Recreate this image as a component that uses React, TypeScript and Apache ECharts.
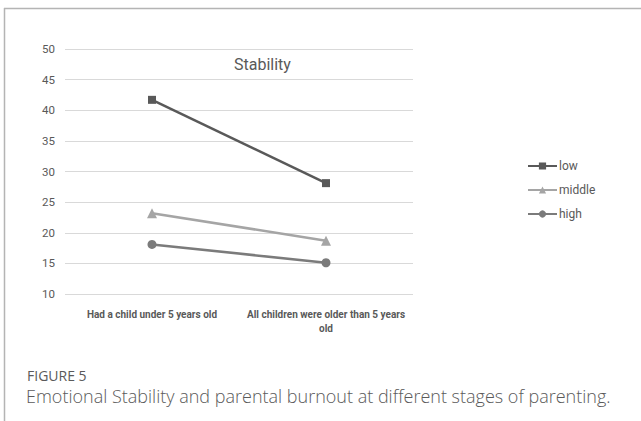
import React, { useEffect, useRef } from "react";
import * as echarts from "echarts";

const categories = ["Had a child under 5 years old", "All children were older than 5 years\nold"];
const lowValues = [41.7, 28.1];
const middleValues = [23.2, 18.7];
const highValues = [18.1, 15.1];
const yTicks = [10, 15, 20, 25, 30, 35, 40, 45, 50];

const chartFont = "Roboto, 'Liberation Sans', sans-serif";

export default function App() {
  const ref = useRef<HTMLDivElement>(null);
  useEffect(() => {
    document.body.style.margin = "0";
    const chart = echarts.init(ref.current!, null, { renderer: "svg" });
    chart.setOption({
      animation: false,
      backgroundColor: "#ffffff",
      textStyle: { fontFamily: chartFont },
      title: {
        text: "Stability",
        left: 234,
        top: 56,
        padding: 0,
        textStyle: { fontSize: 16, fontWeight: "normal", color: "#595959", fontFamily: chartFont },
      },
      grid: { left: 65, top: 49, width: 348, height: 245 },
      legend: {
        orient: "vertical",
        left: 527,
        top: 160,
        padding: 0,
        itemWidth: 29,
        itemHeight: 9,
        itemGap: 12,
        textStyle: { fontSize: 12, color: "#595959", fontFamily: chartFont, padding: [0, 0, 0, -3] },
        data: ["low", "middle", "high"],
      },
      xAxis: {
        type: "category",
        data: categories,
        boundaryGap: true,
        axisLine: { show: false },
        axisTick: { show: false },
        axisLabel: {
          fontSize: 10,
          fontWeight: "bold",
          color: "#595959",
          lineHeight: 14,
          margin: 13,
          interval: 0,
          fontFamily: chartFont,
        },
      },
      yAxis: {
        type: "value",
        min: yTicks[0],
        max: yTicks[yTicks.length - 1],
        interval: 5,
        axisLine: { show: false },
        axisTick: { show: false },
        splitLine: { lineStyle: { color: "#d9d9d9", width: 1 } },
        axisLabel: { fontSize: 11.5, color: "#595959", margin: 10, fontFamily: chartFont },
      },
      series: [
        {
          name: "low",
          type: "line",
          data: lowValues,
          symbol: "rect",
          symbolSize: 8,
          lineStyle: { color: "#595959", width: 2.5 },
          itemStyle: { color: "#595959" },
        },
        {
          name: "middle",
          type: "line",
          data: middleValues,
          symbol: "triangle",
          symbolSize: 10,
          lineStyle: { color: "#a5a5a5", width: 2.5 },
          itemStyle: { color: "#a5a5a5" },
        },
        {
          name: "high",
          type: "line",
          data: highValues,
          symbol: "circle",
          symbolSize: 9,
          lineStyle: { color: "#7b7b7b", width: 2.5 },
          itemStyle: { color: "#7b7b7b" },
        },
      ],
      graphic: [
        { type: "line", shape: { x1: 4, y1: 8.5, x2: 641, y2: 8.5 }, style: { stroke: "#b4b4b4", lineWidth: 1.5 } },
        { type: "line", shape: { x1: 4.5, y1: 8, x2: 4.5, y2: 421 }, style: { stroke: "#b4b4b4", lineWidth: 1.5 } },
        {
          type: "text",
          left: 27,
          top: 368,
          style: {
            text: "FIGURE 5",
            fontSize: 14,
            lineHeight: 15,
            fill: "#5a5a5a",
            fontFamily: "'Open Sans', sans-serif",
          },
        },
        {
          type: "text",
          left: 26,
          top: 386,
          style: {
            text: "Emotional Stability and parental burnout at different stages of parenting.",
            fontSize: 18,
            lineHeight: 20,
            fontWeight: 300,
            fill: "#5a5a5a",
            fontFamily: "'Open Sans', sans-serif",
          },
        },
      ],
    });
    return () => chart.dispose();
  }, []);
  return <div ref={ref} style={{ width: 641, height: 421 }} />;
}
